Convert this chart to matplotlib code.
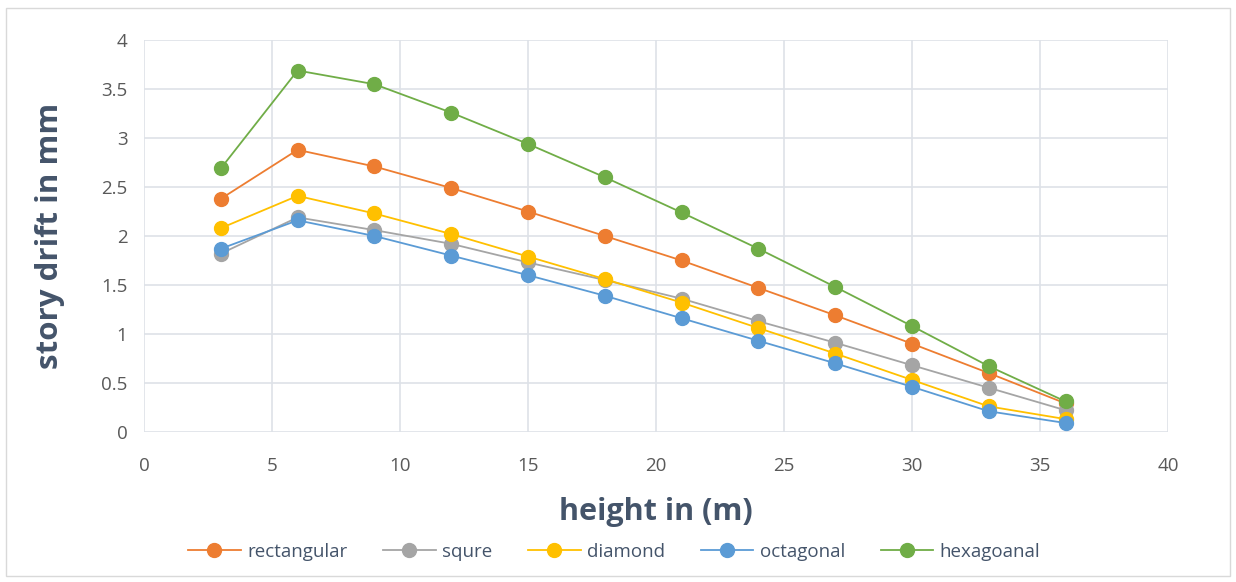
import matplotlib.pyplot as plt
from matplotlib.patches import Rectangle

plt.rcParams['font.family'] = ['Open Sans', 'DejaVu Sans']

height = [3, 6, 9, 12, 15, 18, 21, 24, 27, 30, 33, 36]

rectangular = [2.38, 2.88, 2.71, 2.49, 2.25, 2.00, 1.75, 1.47, 1.19, 0.90, 0.60, 0.29]
squre = [1.82, 2.19, 2.06, 1.92, 1.73, 1.55, 1.36, 1.13, 0.91, 0.68, 0.45, 0.22]
diamond = [2.08, 2.41, 2.23, 2.02, 1.79, 1.56, 1.32, 1.06, 0.80, 0.53, 0.26, 0.13]
octagonal = [1.87, 2.16, 2.00, 1.80, 1.60, 1.39, 1.16, 0.93, 0.70, 0.46, 0.21, 0.09]
hexagoanal = [2.69, 3.69, 3.55, 3.26, 2.94, 2.60, 2.24, 1.87, 1.48, 1.08, 0.67, 0.31]

series = [
    ("rectangular", rectangular, "#ED7D31"),
    ("squre", squre, "#A5A5A5"),
    ("diamond", diamond, "#FFC000"),
    ("octagonal", octagonal, "#5B9BD5"),
    ("hexagoanal", hexagoanal, "#70AD47"),
]

fig = plt.figure(figsize=(12.36, 5.82), dpi=100)
ax = fig.add_axes([0.1165, 0.258, 0.8285, 0.673])

for name, vals, col in series:
    ax.plot(height, vals, color=col, lw=1.3, marker='o', markersize=10,
            markeredgecolor=col, label=name)

ax.set_xlim(0, 40)
ax.set_ylim(0, 4)
ax.set_xticks(range(0, 41, 5))
ax.set_yticks([0, 0.5, 1, 1.5, 2, 2.5, 3, 3.5, 4])
ax.set_yticklabels(['0', '0.5', '1', '1.5', '2', '2.5', '3', '3.5', '4'])
ax.grid(True, color='#DEE2E8', lw=1.2)
ax.set_axisbelow(True)
for s in ax.spines.values():
    s.set_visible(False)
ax.tick_params(length=0, labelsize=13.5, labelcolor='#595959')
ax.tick_params(axis='x', pad=18)
ax.tick_params(axis='y', pad=12)

ax.set_xlabel('height in (m)', fontsize=22, fontweight='bold', color='#44546A', labelpad=16)
ax.set_ylabel('story drift in mm', fontsize=22.5, fontweight='bold', color='#44546A', labelpad=26)

fig.legend(loc='center', bbox_to_anchor=(0.497, 0.052), ncol=5, frameon=False,
           fontsize=13.5, labelcolor='#44546A', handlelength=2.8, columnspacing=1.9,
           handletextpad=0.35)

# light frame around the chart area
fig.patches.append(Rectangle((0.005, 0.01), 0.99, 0.977, transform=fig.transFigure,
                             fill=False, edgecolor='#D9D9D9', lw=1))

fig.savefig('out.png', dpi=100)
